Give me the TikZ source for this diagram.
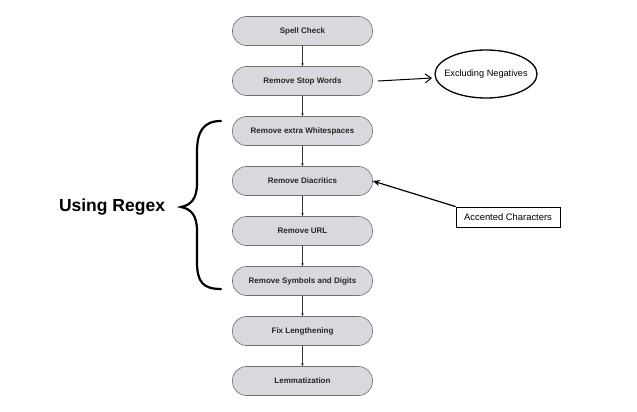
\documentclass[tikz,border=0pt]{standalone}
\usepackage{fontspec}
\setmainfont{Liberation Sans}
\usetikzlibrary{arrows.meta,shapes.geometric}
\definecolor{boxfill}{HTML}{D8D9DE}
\definecolor{boxline}{HTML}{6E6E6E}
\begin{document}
\begin{tikzpicture}[x=1pt,y=-1pt,
  stepbox/.style={draw=boxline,fill=boxfill,line width=0.6pt,rounded corners=14pt,
    minimum width=140pt,minimum height=29pt,inner sep=0pt,
    font=\fontsize{8}{9}\selectfont\bfseries,text=black!85},
  link/.style={draw=black!80,line width=0.6pt,-{Stealth[length=3pt,width=2.5pt]}}]
\useasboundingbox[fill=white] (0,0) rectangle (637,412);
\node[stepbox] (s1) at (302.5,31) {Spell Check};
\node[stepbox] (s2) at (302.5,81) {Remove Stop Words};
\node[stepbox] (s3) at (302.5,131) {Remove extra Whitespaces};
\node[stepbox] (s4) at (302.5,181) {Remove Diacritics};
\node[stepbox] (s5) at (302.5,231) {Remove URL};
\node[stepbox] (s6) at (302.5,281) {Remove Symbols and Digits};
\node[stepbox] (s7) at (302.5,331) {Fix Lengthening};
\node[stepbox] (s8) at (302.5,381) {Lemmatization};
\foreach \a/\b in {s1/s2,s2/s3,s3/s4,s4/s5,s5/s6,s6/s7,s7/s8}
  \draw[link] (\a) -- (\b);
\node[inner sep=0pt,font=\fontsize{9.2}{10}\selectfont] (ex) at (486,74) {Excluding Negatives};
\draw[line width=1.3pt] (ex.center) ellipse [x radius=51, y radius=24];
\coordinate (exs) at (378,81);
\coordinate (exw) at (432,78);
\draw[line width=1pt,-{Straight Barb[length=6pt,width=9pt]}] (exs) -- (exw);
\node[draw=black,line width=0.8pt,minimum width=104pt,minimum height=20pt,inner sep=0pt,
  font=\fontsize{9.4}{10}\selectfont] (ac) at (508,217) {Accented Characters};
\draw[line width=1.2pt,-{Stealth[length=7pt,width=6pt]}] (ac.north west) -- (s4.east);
\node[font=\fontsize{17.5}{20}\selectfont\bfseries] (rx) at (112,207) {Using Regex};
\draw[line width=2.2pt,line cap=round]
  (221,121) .. controls (203,121) and (197,132) .. (197,152)
  -- (197,183) .. controls (197,199) and (191,205) .. (181,207)
  .. controls (191,209) and (197,215) .. (197,231)
  -- (197,262) .. controls (197,282) and (203,289) .. (221,289);
\end{tikzpicture}
\end{document}
